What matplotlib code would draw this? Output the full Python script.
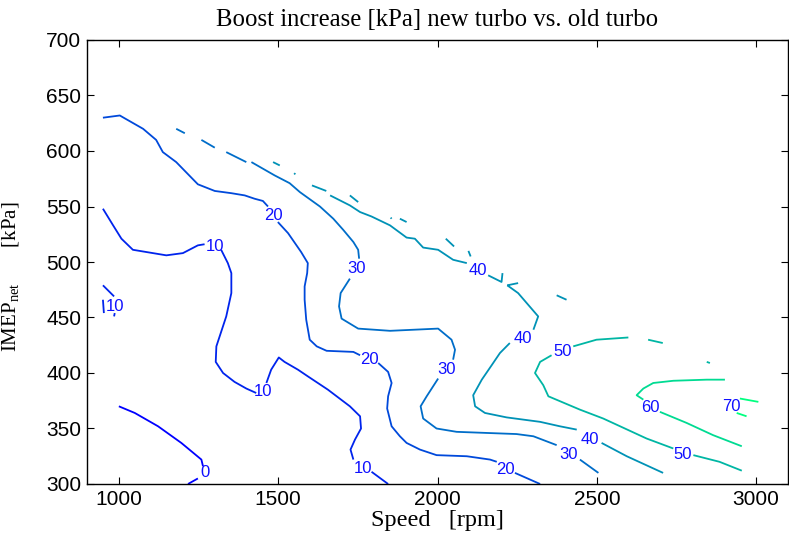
import numpy as np
import matplotlib
matplotlib.use("Agg")
import matplotlib.pyplot as plt
from matplotlib import colors

nan = np.nan

# contour levels (boost increase, kPa)
levels = [0, 10, 20, 30, 40, 50, 60, 70]

# contour lines: speed [rpm] / IMEP [kPa]; nan separates pieces
c0_speed = [1000, 1050, 1123, 1196, 1259, 1264, nan, 1248, 1217]
c0_imep = [370, 364, 352, 337, 322, 316, nan, 305, 300]

c10_speed = [950, 982, 1008, 1044, 1149, 1201, 1248, 1269, nan,
             1321, 1342, 1353, 1353, 1337, 1306, 1304, 1327, 1363, 1400, 1431, nan,
             1463, 1478, 1502, 1520, 1562, 1593, 1656, 1725, 1757, 1760, 1741, 1727, 1736, nan,
             1793, 1845, nan, 950, 985, nan, 950, 953, nan, 987, 985]
c10_imep = [548, 533, 521, 511, 506, 508, 515, 516, nan,
            511, 499, 490, 472, 451, 424, 410, 400, 392, 386, 382, nan,
            391, 403, 414, 410, 403, 397, 385, 370, 361, 350, 340, 331, 322, nan,
            311, 300, nan, 479, 469, nan, 466, 454, nan, 454, 451]

c20_speed = [950, 1003, 1015, 1076, 1117, 1138, 1180, 1248, 1301, 1353, 1395, 1426, 1452, 1468, nan,
             1499, 1531, 1572, 1593, 1591, 1583, 1583, 1588, 1599, 1621, 1652, 1736, 1757, nan,
             1814, 1845, 1856, 1845, 1842, 1856, 1882, 1903, 1945, 1997, 2092, 2165, 2186, nan,
             2243, 2322]
c20_imep = [630, 632, 630, 620, 610, 599, 590, 570, 564, 562, 560, 557, 555, 550, nan,
            536, 526, 509, 499, 490, 478, 466, 448, 430, 424, 420, 419, 416, nan,
            409, 401, 391, 379, 368, 352, 343, 337, 331, 326, 325, 322, 320, nan,
            310, 300]

c30_speed = [1180, 1207, nan, 1259, 1301, nan, 1337, 1400, nan,
             1416, 1489, 1536, 1568, 1631, 1673, 1704, 1736, 1751, 1754, nan,
             1725, 1696, 1691, 1699, 1751, 1851, 2002, 2044, 2055, 2049, nan,
             2002, 1966, 1947, 1955, 1997, 2060, 2154, 2248, 2301, 2374, nan,
             2447, 2505]
c30_imep = [620, 616, nan, 610, 603, nan, 599, 590, nan,
            590, 578, 571, 563, 550, 539, 529, 518, 511, 503, nan,
            485, 472, 460, 449, 440, 438, 440, 430, 421, 412, nan,
            395, 379, 370, 359, 350, 347, 346, 345, 343, 335, nan,
            322, 310]

c40_speed = [1484, 1505, nan, 1550, 1554, nan, 1606, 1651, nan,
             1663, 1725, 1757, 1793, 1851, 1903, 1929, 1955, 2002, 2049, 2092, nan,
             2159, 2201, 2204, nan, 2219, 2253, nan, 2219, 2253, 2316, 2301, nan,
             2227, 2196, 2170, 2139, 2112, 2118, 2149, 2217, 2322, 2384, 2437, nan,
             2515, 2594, 2708, nan, 1725, 1751, nan, 1853, 1856, nan, 1882, 1903, nan,
             2026, 2052, nan, 2097, 2104, nan, 2374, 2405]
c40_imep = [590, 587, nan, 580, 579, nan, 569, 564, nan,
            560, 551, 545, 541, 533, 522, 521, 513, 511, 502, 499, nan,
            488, 482, 490, nan, 479, 481, nan, 479, 472, 451, 439, nan,
            427, 418, 407, 394, 380, 370, 364, 360, 356, 352, 349, nan,
            337, 325, 310, nan, 560, 554, nan, 540, 539, nan, 539, 536, nan,
            521, 514, nan, 510, 505, nan, 470, 466]

c50_speed = [2599, 2499, 2426, nan, 2358, 2322, 2306, 2332, 2348, 2447, 2520, 2573, 2656, 2740, nan,
             2803, 2885, 2955, nan, 2661, 2707, nan, 2845, 2855]
c50_imep = [432, 430, 424, nan, 416, 410, 400, 389, 379, 367, 359, 352, 341, 332, nan,
            326, 320, 312, nan, 430, 427, nan, 410, 409]

c60_speed = [2902, 2845, 2740, 2677, 2646, 2625, 2646, nan, 2698, 2782, 2865, 2955]
c60_imep = [394, 394, 393, 391, 386, 380, 376, nan, 365, 355, 344, 334]

c70_speed = [2949, 3007, nan, 2939, 2970]
c70_imep = [377, 374, nan, 364, 361]

# inline contour labels
label_text = ['0', '10', '10', '10', '10', '20', '20', '20', '30', '30', '30',
              '40', '40', '40', '50', '50', '60', '70']
label_speed = [1269, 987, 1301, 1452, 1767, 1484, 1786, 2212, 1746, 2029, 2410,
               2126, 2267, 2478, 2393, 2768, 2667, 2923]
label_imep = [310, 460, 514, 383, 314, 542, 412, 313, 494, 403, 327,
              492, 431, 340, 419, 327, 369, 370]

x_ticks = [1000, 1500, 2000, 2500, 3000]
y_ticks = [300, 350, 400, 450, 500, 550, 600, 650, 700]

title = "Boost increase [kPa] new turbo vs. old turbo"
x_label = "Speed   [rpm]"
y_label = r"IMEP$_\mathrm{net}$" + "       [kPa]"

plt.rcParams['mathtext.fontset'] = 'custom'
plt.rcParams['mathtext.rm'] = 'Liberation Serif'
plt.rcParams['mathtext.it'] = 'Liberation Serif:italic'

fig = plt.figure(figsize=(7.89, 5.45), dpi=100)
ax = fig.add_axes([87 / 789, 1 - 484 / 545, 701 / 789, 444 / 545])

cmap = plt.get_cmap('winter')
norm = colors.Normalize(vmin=0, vmax=70)
series = [(0, c0_speed, c0_imep), (10, c10_speed, c10_imep), (20, c20_speed, c20_imep),
          (30, c30_speed, c30_imep), (40, c40_speed, c40_imep), (50, c50_speed, c50_imep),
          (60, c60_speed, c60_imep), (70, c70_speed, c70_imep)]
for lev, xs, ys in series:
    ax.plot(xs, ys, color=cmap(norm(lev)), lw=1.3, solid_capstyle='butt')

for t, xs, ys in zip(label_text, label_speed, label_imep):
    ax.text(xs, ys, t, color='#1010ff', fontsize=12, family='Liberation Sans',
            ha='center', va='center')

ax.set_xlim(900, 3100)
ax.set_ylim(300, 700)
ax.set_xticks(x_ticks)
ax.set_yticks(y_ticks)
ax.tick_params(direction='in', top=True, right=True, length=5, width=0.8,
               labelsize=15, pad=4)
for lab in ax.get_xticklabels() + ax.get_yticklabels():
    lab.set_family('Liberation Sans')
for sp in ax.spines.values():
    sp.set_linewidth(1.0)

ax.set_title(title, family='Liberation Serif', fontsize=17.8, pad=10)
ax.set_xlabel(x_label, family='Liberation Serif', fontsize=17.5, labelpad=1)
ax.set_ylabel(y_label, family='Liberation Serif', fontsize=15)
ax.yaxis.set_label_coords(-0.094, 0.467)

fig.savefig('out.png', dpi=100)
